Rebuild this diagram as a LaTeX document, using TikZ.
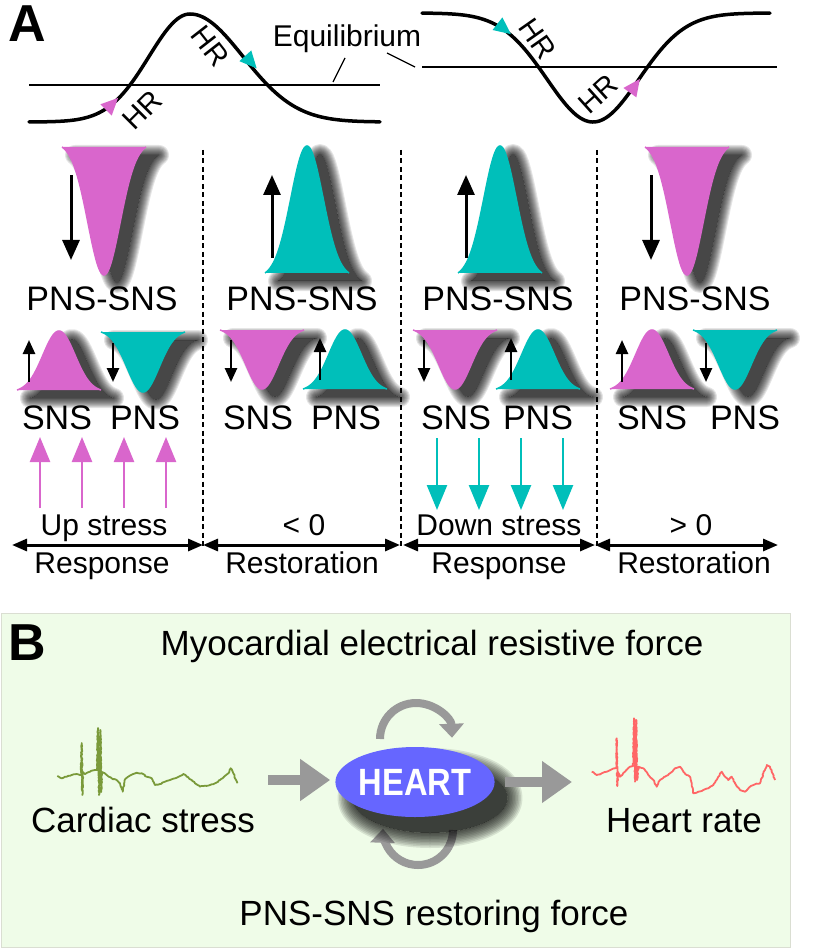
\documentclass[tikz,border=0pt]{standalone}
\usepackage{fontspec}
\setmainfont{Liberation Sans}
\usetikzlibrary{arrows.meta,shapes.geometric,decorations.pathmorphing}

\definecolor{pinkc}{RGB}{217,102,204}
\definecolor{cyanc}{RGB}{0,191,186}
\definecolor{arrgray}{RGB}{153,153,153}
\definecolor{heartblue}{RGB}{102,102,255}
\definecolor{ecggreen}{RGB}{122,154,58}
\definecolor{ecgred}{RGB}{255,102,102}
\definecolor{bgB}{RGB}{239,252,232}
\definecolor{bdB}{RGB}{218,222,210}

\tikzset{
 txt/.style={font=\fontsize{34}{40}\selectfont, anchor=base, inner sep=0pt},
 mtxt/.style={font=\fontsize{30}{36}\selectfont, anchor=base, inner sep=0pt},
 btxt/.style={font=\fontsize{35}{42}\selectfont, anchor=base, inner sep=0pt},
 hrtxt/.style={font=\fontsize{29}{34}\selectfont, inner sep=0pt},
 eqtxt/.style={font=\fontsize{30}{34}\selectfont, anchor=base, inner sep=0pt},
 lbl/.style={font=\fontsize{52}{56}\bfseries\selectfont, anchor=base, inner sep=0pt},
 bigar/.style={draw=black, line width=3pt, -{Triangle[length=20pt,width=17pt,fill=black]}},
 smar/.style={draw=black, line width=2.5pt, -{Triangle[length=14pt,width=12pt,fill=black]}},
 stressar/.style={line width=2.5pt, -{Triangle[length=25pt,width=20pt]}},
 dblar/.style={line width=3pt, {Triangle[length=15pt,width=12pt]}-{Triangle[length=15pt,width=12pt]}},
 sepline/.style={line width=1.6pt, dash pattern=on 5pt off 3.5pt},
 shadowstroke/.style={draw=black, draw opacity=0.1, line join=round, line cap=round},
 hrcurve/.style={line width=3.5pt, line cap=round},
 eqline/.style={line width=1.5pt},
 loopar/.style={arrgray, line width=8pt, -{Triangle[length=14pt,width=24pt]}},
 flowar/.style={arrgray, line width=10pt, -{Triangle[length=30pt,width=40pt]}},
 ecg/.style={line width=1.8pt, line join=round, decorate, decoration={random steps, segment length=1.6pt, amplitude=0.5pt}},
}

% bell: #1 colour, #2 centre x, #3 base y, #4 height (+ up, - down), #5 sigma
\newcommand{\bellshape}[5]{%
 \begin{scope}[shift={(13,8)}]
  \begin{scope}[even odd rule]
   \clip (-60,-60) rectangle (900,1000) plot[domain=-42:42, samples=41] ({#2+\x}, {#3-(#4)*(exp(-0.5*(\x/#5)*(\x/#5))-exp(-0.5*(42/#5)*(42/#5)))/(1-exp(-0.5*(42/#5)*(42/#5)))}) -- cycle;
   \foreach \k in {1,...,10}{
     \draw[shadowstroke, line width=\k*2pt] plot[domain=-42:42, samples=41] ({#2+\x}, {#3-(#4)*(exp(-0.5*(\x/#5)*(\x/#5))-exp(-0.5*(42/#5)*(42/#5)))/(1-exp(-0.5*(42/#5)*(42/#5)))}) -- cycle;
   }
  \end{scope}
  \fill[black, fill opacity=0.72] plot[domain=-42:42, samples=41] ({#2+\x}, {#3-(#4)*(exp(-0.5*(\x/#5)*(\x/#5))-exp(-0.5*(42/#5)*(42/#5)))/(1-exp(-0.5*(42/#5)*(42/#5)))}) -- cycle;
 \end{scope}
 \fill[#1] plot[domain=-42:42, samples=61] ({#2+\x}, {#3-(#4)*(exp(-0.5*(\x/#5)*(\x/#5))-exp(-0.5*(42/#5)*(42/#5)))/(1-exp(-0.5*(42/#5)*(42/#5)))}) -- cycle;
 \draw[#1, line width=1.5pt] plot[domain=-42:42, samples=61] ({#2+\x}, {#3-(#4)*(exp(-0.5*(\x/#5)*(\x/#5))-exp(-0.5*(42/#5)*(42/#5)))/(1-exp(-0.5*(42/#5)*(42/#5)))});
}
% vertical arrow between named coordinates
\newcommand{\varr}[5]{\coordinate (#1s) at (#2,#3); \coordinate (#1e) at (#2,#4); \draw[#5] (#1s) -- (#1e);}
% small direction triangle on a curve
\newcommand{\dirtri}[4]{\fill[#1, shift={(#2,#3)}, rotate=#4] (10,0) -- (-7,8) -- (-7,-8) -- cycle;}

\begin{document}
\begin{tikzpicture}[x=1pt,y=-1pt]
\useasboundingbox (0,0) rectangle (819,949);

% ---------------- Panel A -----------------
\node[lbl] (labA) at (27,42) {A};

% left HR curve
\draw[eqline] (29,85) coordinate (eqLa) -- (380,85) coordinate (eqLb);
\draw[hrcurve] plot[domain=-161:0, samples=80] ({190+\x}, {122-108*exp(-0.5*(\x/41)*(\x/41))})
  -- plot[domain=0:190, samples=80] ({190+\x}, {122-108*exp(-0.5*(\x/53)*(\x/53))});
\dirtri{pinkc}{111}{105}{45}
\dirtri{cyanc}{250}{61}{-48}
\node[hrtxt, rotate=-52] (hr1) at (210,46) {HR};
\node[hrtxt, rotate=45] (hr2) at (142,110) {HR};

% right HR curve
\draw[eqline] (422,67) coordinate (eqRa) -- (777,67) coordinate (eqRb);
\draw[hrcurve] plot[domain=-171:177, samples=150] ({593+\x}, {13+109*exp(-0.5*(\x/46)*(\x/46))});
\dirtri{cyanc}{503}{28}{-38}
\dirtri{pinkc}{634}{87}{54}
\node[hrtxt, rotate=-55] (hr3) at (538,39) {HR};
\node[hrtxt, rotate=42] (hr4) at (598,94) {HR};

% Equilibrium
\node[eqtxt] (eq) at (347,47) {Equilibrium};
\coordinate (eqp1) at (345,58); \coordinate (eqp2) at (333,82);
\coordinate (eqp3) at (387,53); \coordinate (eqp4) at (415,67);
\draw[line width=1.3pt] (eqp1) -- (eqp2);
\draw[line width=1.3pt] (eqp3) -- (eqp4);

% separators
\foreach \i/\xx in {1/203,2/401,3/597}{
  \coordinate (sep\i a) at (\xx,150); \coordinate (sep\i b) at (\xx,547);
  \draw[sepline] (sep\i a) -- (sep\i b);
}

% section 1
\bellshape{pinkc}{104}{147}{-128}{16}
\varr{a1}{71}{175}{260}{bigar}
\node[txt] (ps1) at (102,310) {PNS-SNS};
\bellshape{pinkc}{59}{390}{59}{16}
\varr{s1}{29}{382}{340}{smar}
\bellshape{cyanc}{143}{332}{-60}{16}
\varr{s2}{113}{343}{382}{smar}
\node[txt] (sns1) at (57,429) {SNS};
\node[txt] (pns1) at (145,429) {PNS};

% section 2
\bellshape{cyanc}{307}{273}{127}{16}
\varr{a2}{272}{258}{175}{bigar}
\node[txt] (ps2) at (302,310) {PNS-SNS};
\bellshape{pinkc}{262}{330}{-59}{16}
\varr{s3}{231}{340}{382}{smar}
\bellshape{cyanc}{345}{389}{59}{16}
\varr{s4}{320}{380}{338}{smar}
\node[txt] (sns2) at (258,429) {SNS};
\node[txt] (pns2) at (346,429) {PNS};

% section 3
\bellshape{cyanc}{500}{273}{127}{16}
\varr{a3}{466}{258}{175}{bigar}
\node[txt] (ps3) at (498,310) {PNS-SNS};
\bellshape{pinkc}{455}{330}{-59}{16}
\varr{s5}{424}{340}{382}{smar}
\bellshape{cyanc}{538}{389}{59}{16}
\varr{s6}{511}{380}{338}{smar}
\node[txt] (sns3) at (456,429) {SNS};
\node[txt] (pns3) at (538,429) {PNS};

% section 4
\bellshape{pinkc}{687}{147}{-128}{16}
\varr{a4}{651}{175}{260}{bigar}
\node[txt] (ps4) at (695,310) {PNS-SNS};
\bellshape{pinkc}{652}{389}{59}{16}
\varr{s7}{622}{382}{340}{smar}
\bellshape{cyanc}{735}{330}{-59}{16}
\varr{s8}{706}{343}{382}{smar}
\node[txt] (sns4) at (652,429) {SNS};
\node[txt] (pns4) at (745,429) {PNS};

% stress arrows
\foreach \i/\xx in {1/40,2/82,3/124,4/166}{ \varr{up\i}{\xx}{508}{437}{stressar, pinkc} }
\foreach \i/\xx in {1/437,2/479,3/521,4/563}{ \varr{dn\i}{\xx}{438}{510}{stressar, cyanc} }

% phase labels
\node[mtxt] (t1) at (104,535) {Up stress};
\node[mtxt] (t2) at (304,535) {< 0};
\node[mtxt] (t3) at (499,535) {Down stress};
\node[mtxt] (t4) at (691,535) {> 0};
\coordinate (d0) at (12,545); \coordinate (d1) at (203,545); \coordinate (d2) at (400,545);
\coordinate (d3) at (403,545); \coordinate (d4) at (595,545); \coordinate (d5) at (778,545);
\draw[dblar] (d0) -- (d1);
\draw[dblar] (d1) -- (d2);
\draw[dblar] (d3) -- (d4);
\draw[dblar] (d4) -- (d5);
\node[mtxt] (r1) at (102,573) {Response};
\node[mtxt] (r2) at (302,573) {Restoration};
\node[mtxt] (r3) at (499,573) {Response};
\node[mtxt] (r4) at (694,573) {Restoration};

% ---------------- Panel B -----------------
\draw[fill=bgB, draw=bdB, line width=1pt] (1,613) rectangle (790,947);
\node[lbl] (labB) at (27,660) {B};
\node[btxt] (myo) at (432,655) {Myocardial electrical resistive force};
\node[btxt] (rest) at (434,925) {PNS-SNS restoring force};
\node[btxt] (cs) at (143,832) {Cardiac stress};
\node[btxt] (hrate) at (684,832) {Heart rate};

\pgfmathsetseed{7}
\draw[ecg, ecggreen] plot coordinates {(57.3,776) (61.7,778.3) (66.7,776.7) (71.7,775) (76.7,774) (80,775) (81,775) (81.7,743) (82.3,795) (83,772) (85,774) (90,771.7) (95,770) (97,770) (98,728) (99,795) (100.5,730) (101.2,792) (102,772) (106.7,775) (111.7,778.3) (116.7,780) (120,783.3) (122.7,791.7) (125,779.3) (128.3,776.7) (133.3,774) (136.7,772.7) (141.7,773.3) (146.7,776.7) (151.7,778.3) (155,785) (160,784) (165,781.7) (170,780) (175,778.3) (180,776) (183.3,774) (186.7,776.7) (191.7,780) (195,783.3) (200,786.7) (205,785.7) (210,785) (215,783.3) (220,780) (224,776.7) (228.3,773.3) (230.7,768.3) (233.3,773.3) (237.3,783.3)};
\draw[ecg, ecgred] plot coordinates {(591.7,771.7) (596.7,775) (601.7,773.3) (606.7,771.7) (611.7,769.3) (615,768.3) (616.2,768) (616.7,738.3) (617.3,786) (618,772) (620,776.7) (625,771.7) (630,766.7) (633,766) (634,718.3) (635,781.7) (636.2,720) (637,780) (638.3,766.7) (643.3,768.3) (648.3,775) (653.3,780) (656.7,786.7) (660,780) (665,776.7) (670,773.3) (675,768.3) (680,766.7) (683.3,771.7) (686.7,775) (690,776.7) (693.3,793.3) (698.3,791.7) (703.3,790) (708.3,788.3) (713.3,785) (718.3,776.7) (721.7,771.7) (725,776.7) (728.3,780) (731.7,776.7) (735,783.3) (740,790) (745,791.7) (750,786.7) (755,784.3) (760,783.3) (763.3,773.3) (766.7,765) (770,766.7) (775,780)};

% loop arrows
\coordinate (loopT) at (380,739);
\draw[loopar] (loopT) arc[start angle=180, end angle=358, radius=36];
\coordinate (loopB) at (453,830);
\draw[loopar] (loopB) arc[start angle=0, end angle=182, radius=35];

% heart shadow (soft, offset to lower right)
\begin{scope}[shift={(15,16)}]
  \begin{scope}[even odd rule]
    \clip (0,600) rectangle (819,949) (415,782) ellipse [x radius=77.5, y radius=35];
    \foreach \k in {1,...,10}{
      \draw[shadowstroke, line width=\k*3pt] (415,782) ellipse [x radius=77.5, y radius=35];
    }
  \end{scope}
  \fill[black, fill opacity=0.75] (415,782) ellipse [x radius=77.5, y radius=35];
\end{scope}

% heart
\node[ellipse, fill=heartblue, minimum width=155pt, minimum height=70pt, inner sep=0pt]
  (heart) at (415,782) {\fontsize{38}{38}\bfseries\selectfont\color{white}\scalebox{0.86}[1]{HEART}};

\coordinate (inL) at (268,780);
\coordinate (outR) at (572,782);
\draw[flowar] (inL) -- ([xshift=-5pt]heart.west |- inL);
\draw[flowar] ([xshift=10pt]heart.east) -- (outR);
\end{tikzpicture}
\end{document}
